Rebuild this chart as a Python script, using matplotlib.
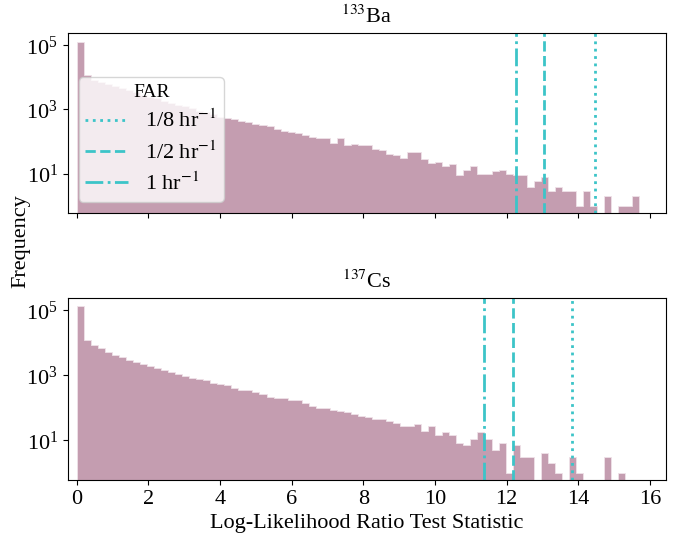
import numpy as np
import matplotlib
matplotlib.use("Agg")
import matplotlib.pyplot as plt

plt.rcParams['font.family'] = ['Liberation Serif', 'DejaVu Serif']
plt.rcParams['mathtext.fontset'] = 'stix'

# histogram bins (shared by both sources)
bin_edges = np.linspace(0, 15.7, 81)

ba_counts = [130000, 12000, 8500, 7000, 6200, 5400, 4600, 4000, 3400, 2900,
             2500, 2200, 1900, 1620, 1400, 1250, 1080, 930, 810, 700,
             580, 540, 510, 450, 420, 360, 334, 302, 251, 209,
             200, 191, 160, 138, 126, 126, 93, 126, 77, 85,
             78, 77, 58, 53, 42, 38, 31, 48, 48, 28,
             21, 23, 17, 20, 9, 13, 18, 10, 10, 12,
             13, 10, 9, 9, 4, 6, 8, 3, 4, 3,
             3, 1, 3, 1, 0, 2, 0, 1, 1, 2]

cs_counts = [137000, 12500, 8500, 6700, 5400, 4250, 3600, 3050, 2650, 2230,
             1940, 1670, 1450, 1230, 1070, 970, 840, 760, 730, 590,
             550, 510, 420, 365, 350, 316, 270, 219, 204, 204,
             173, 170, 145, 112, 97, 97, 84, 79, 75, 65,
             55, 51, 46, 46, 38, 33, 28, 27, 32, 19,
             28, 14, 18, 15, 8, 7, 11, 18, 11, 5,
             8, 1, 7, 3, 3, 0, 4, 2, 1, 0,
             3, 1, 0, 0, 0, 3, 0, 1, 0, 0]

far_labels = [r'1/8 hr$^{-1}$', r'1/2 hr$^{-1}$', r'1 hr$^{-1}$']
far_styles = [':', '--', '-.']
ba_thresholds = [14.47, 13.04, 12.26]
cs_thresholds = [13.83, 12.18, 11.38]

titles = [r'$^{133}$Ba', r'$^{137}$Cs']

bar_color = '#c49db0'
line_color = '#3cc4c8'

fig = plt.figure(figsize=(6.86, 5.38), dpi=100)
ax1 = fig.add_axes([0.0987, 0.604, 0.8722, 0.3347])
ax2 = fig.add_axes([0.0987, 0.108, 0.8722, 0.338], sharex=ax1)

centers = 0.5 * (bin_edges[:-1] + bin_edges[1:])

for ax, counts, thr, title in [(ax1, ba_counts, ba_thresholds, titles[0]),
                               (ax2, cs_counts, cs_thresholds, titles[1])]:
    ax.hist(centers, bins=bin_edges, weights=counts, histtype='stepfilled',
            color=bar_color, edgecolor='#efe2e8', linewidth=0.6)
    for x, ls, lab in zip(thr, far_styles, far_labels):
        ax.axvline(x, color=line_color, linestyle=ls, linewidth=2, label=lab)
    ax.set_yscale('log')
    ax.set_ylim(0.6, 2.4e5)
    ax.set_yticks([1e1, 1e3, 1e5])
    ax.yaxis.set_minor_locator(matplotlib.ticker.NullLocator())
    ax.set_title(title, fontsize=16, pad=7)
    ax.tick_params(labelsize=16)

ax1.set_xlim(-0.25, 16.45)
ax1.set_xticks(np.arange(0, 17, 2))
ax1.tick_params(labelbottom=False)
ax1.legend(title='FAR', loc='lower left', fontsize=16, title_fontsize=14,
           handlelength=1.9, labelspacing=0.4, borderpad=0.3)

ax2.set_xlabel('Log-Likelihood Ratio Test Statistic', fontsize=16)
fig.text(0.03, 0.551, 'Frequency', rotation=90, va='center', ha='center', fontsize=16)

fig.savefig('out.png', dpi=100)
